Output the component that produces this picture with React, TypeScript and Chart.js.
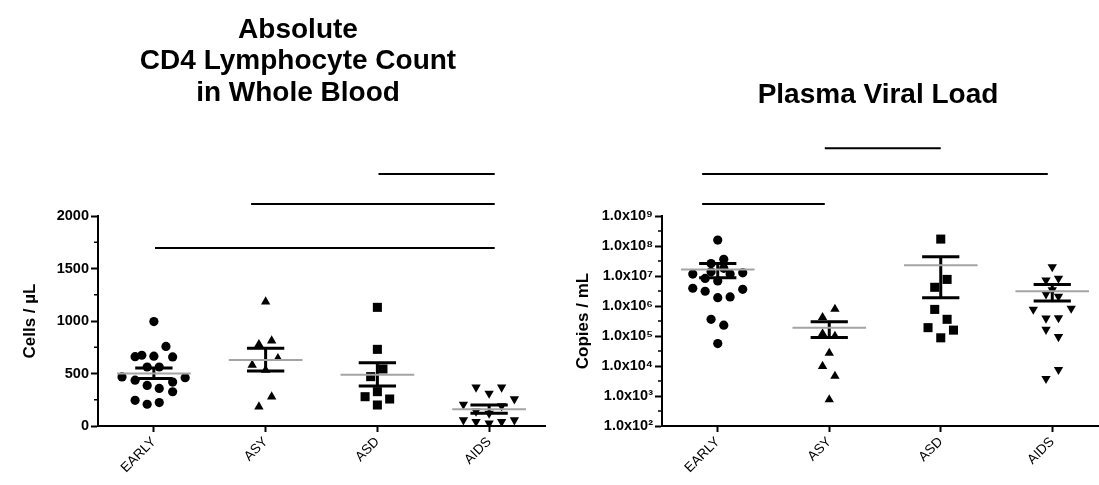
import React, { useEffect, useRef } from 'react';
import { Chart, registerables } from 'chart.js';

Chart.register(...registerables);

const FONT = "'Liberation Sans', Arial, Helvetica, sans-serif";

// ---------- shared ----------
const categories = ['EARLY', 'ASY', 'ASD', 'AIDS'];

// ---------- CD4 panel (cells / µL) ----------
const cd4Title = ['Absolute', 'CD4 Lymphocyte Count', 'in Whole Blood'];
const cd4Early = [995, 758, 660, 674, 665, 658, 562, 562, 467, 460, 436, 418, 386, 358, 326, 245, 223, 207];
const cd4EarlyJitter = [0, 0.108, -0.168, -0.108, 0, 0.168, -0.06, 0.048, -0.285, 0.28, -0.168, 0.168, -0.06, 0.048, 0.168, -0.168, 0.048, -0.06];
const cd4Asy = [1184, 812, 778, 645, 581, 533, 279, 184];
const cd4AsyJitter = [0, 0.054, -0.06, 0.11, -0.12, 0, 0.054, -0.06];
const cd4Asd = [1130, 730, 543, 470, 327, 279, 257, 200];
const cd4AsdJitter = [0, 0, 0.05, -0.06, 0, -0.11, 0.11, 0];
const cd4Aids = [369, 311, 369, 257, 206, 190, 140, 120, 57, 41, 26, 41, 57];
const cd4AidsJitter = [-0.117, 0, 0.112, 0.226, -0.23, 0.112, -0.117, 0, -0.23, -0.117, 0, 0.112, 0.226];
const cd4Mean = [500, 629, 489, 159];
const cd4SemHigh = [552, 740, 603, 200];
const cd4SemLow = [452, 524, 381, 121];
const cd4SigFrom = [0.01, 0.87, 2.01];
const cd4SigTo = [3.05, 3.05, 3.05];
const cd4SigLevel = [1695, 2114, 2400];
const cd4TickStep = 500;
const cd4Minor = [250, 750, 1250, 1750];

// ---------- Viral load panel (copies / mL) ----------
const vlTitle = ['Plasma Viral Load'];
const vlEarly = [1.58e8, 3.6e7, 2.6e7, 1.8e7, 1.38e7, 1.28e7, 1.16e7, 1.16e7, 8.3e6, 6.8e6, 3.9e6, 3.6e6, 3.1e6, 2.0e6, 1.9e6, 3.6e5, 2.3e5, 5.6e4];
const vlEarlyJitter = [0, 0.054, -0.06, 0.054, -0.06, 0.224, -0.224, 0.111, -0.113, 0, -0.224, 0.224, -0.113, 0.111, 0, -0.06, 0.054, 0];
const vlAsy = [7.9e5, 4.2e5, 1.2e5, 9.9e4, 2.7e4, 9.8e3, 4.6e3, 7.6e2];
const vlAsyJitter = [0.051, -0.06, -0.06, 0.051, 0, -0.06, 0.051, 0];
const vlAsd = [1.7e8, 7.7e6, 4.2e6, 7.7e5, 3.6e5, 1.9e5, 1.57e5, 8.7e4];
const vlAsdJitter = [0, 0.057, -0.054, -0.054, 0.057, -0.114, 0.114, 0];
const vlAids = [2.0e7, 8.3e6, 7.3e6, 3.4e6, 2.5e6, 2.1e6, 8.3e5, 7.7e5, 4.0e5, 3.9e5, 1.65e5, 9.4e4, 7.6e3, 3.8e3];
const vlAidsJitter = [0, 0.056, -0.056, 0, -0.056, 0.056, 0.17, -0.17, 0.056, -0.056, -0.056, 0.056, 0.056, -0.056];
const vlMean = [1.66e7, 1.87e5, 2.3e7, 3.1e6];
const vlSemHigh = [2.6e7, 3.0e5, 4.4e7, 5.2e6];
const vlSemLow = [8.7e6, 8.9e4, 1.9e6, 1.46e6];
const vlSigFrom = [-0.14, -0.14, 0.96];
const vlSigTo = [0.96, 2.96, 2.0];
const vlSigLevel = [2.5e9, 2.5e10, 1.8e11];
const vlTickValues = [1e2, 1e3, 1e4, 1e5, 1e6, 1e7, 1e8, 1e9];
const vlTickLabels = ['1.0x10²', '1.0x10³', '1.0x10⁴', '1.0x10⁵', '1.0x10⁶', '1.0x10⁷', '1.0x10⁸', '1.0x10⁹'];
const vlMinor = [3.16e2, 3.16e3, 3.16e4, 3.16e5, 3.16e6, 3.16e7, 3.16e8];

// ---------- helpers ----------
const MEAN_HALF = 0.33;
const CAP_HALF = 0.167;

function pointSet(values: number[], jitter: number[], cat: number, style: string, radius: number, rotation = 0) {
  return {
    data: values.map((v, i) => ({ x: cat + jitter[i], y: v })),
    showLine: false,
    pointStyle: style,
    pointRadius: radius,
    pointRotation: rotation,
    pointBackgroundColor: '#000',
    pointBorderColor: '#000',
    pointBorderWidth: 0,
    order: 3,
  };
}

function meanSet(means: number[]) {
  return {
    data: means.flatMap((m, i) => [
      { x: i - MEAN_HALF, y: m },
      { x: i + MEAN_HALF, y: m },
      { x: i, y: null },
    ]),
    showLine: true,
    spanGaps: false,
    pointRadius: 0,
    borderColor: '#a4a4a4',
    borderWidth: 2,
    order: 1,
  };
}

function semSet(hi: number[], lo: number[]) {
  return {
    data: hi.flatMap((h, i) => [
      { x: i - CAP_HALF, y: h },
      { x: i + CAP_HALF, y: h },
      { x: i, y: null },
      { x: i, y: h },
      { x: i, y: lo[i] },
      { x: i, y: null },
      { x: i - CAP_HALF, y: lo[i] },
      { x: i + CAP_HALF, y: lo[i] },
      { x: i, y: null },
    ]),
    showLine: true,
    spanGaps: false,
    pointRadius: 0,
    borderColor: '#000',
    borderWidth: 3,
    borderCapStyle: 'butt',
    order: 2,
  };
}

function sigSet(from: number[], to: number[], level: number[]) {
  return {
    data: from.flatMap((f, i) => [
      { x: f, y: level[i] },
      { x: to[i], y: level[i] },
      { x: to[i], y: null },
    ]),
    showLine: true,
    spanGaps: false,
    pointRadius: 0,
    borderColor: '#000',
    borderWidth: 2,
    clip: false,
    order: 0,
  };
}

const panelTitlePlugin = {
  id: 'panelTitle',
  afterDraw(chart: any, _args: any, opts: any) {
    const { ctx } = chart;
    ctx.save();
    ctx.font = `bold ${opts.size}px ${FONT}`;
    ctx.fillStyle = '#000';
    ctx.textAlign = 'center';
    ctx.textBaseline = 'middle';
    opts.lines.forEach((t: string, i: number) => ctx.fillText(t, opts.x, opts.y + i * opts.lineHeight));
    ctx.restore();
  },
};

const minorTicksPlugin = {
  id: 'minorTicks',
  afterDraw(chart: any, _args: any, opts: any) {
    const { ctx } = chart;
    const s = chart.scales.y;
    const x0 = chart.chartArea.left;
    ctx.save();
    ctx.strokeStyle = '#000';
    ctx.lineWidth = 1.5;
    ctx.beginPath();
    opts.values.forEach((v: number) => {
      const y = s.getPixelForValue(v);
      ctx.moveTo(x0, y);
      ctx.lineTo(x0 - opts.length, y);
    });
    ctx.stroke();
    ctx.restore();
  },
};

const TICK_FONT = { family: FONT, size: 14.5, weight: 'bold' };

function xScale() {
  return {
    type: 'linear',
    min: -0.5,
    max: 3.5,
    afterBuildTicks: (s: any) => {
      s.ticks = categories.map((_, i) => ({ value: i }));
    },
    afterFit: (s: any) => {
      s.height = 59;
    },
    ticks: {
      callback: (v: number) => categories[v] ?? '',
      minRotation: 45,
      maxRotation: 45,
      autoSkip: false,
      color: '#000',
      padding: 2,
      font: { family: FONT, size: 13.5 },
    },
    grid: { drawOnChartArea: false, drawTicks: true, tickLength: 6, tickColor: '#000', tickWidth: 2 },
    border: { display: true, color: '#000', width: 2 },
  };
}

function yCommon(title: string, width: number) {
  return {
    afterFit: (s: any) => {
      s.width = width;
    },
    grid: { drawOnChartArea: false, drawTicks: true, tickLength: 7, tickColor: '#000', tickWidth: 2 },
    border: { display: true, color: '#000', width: 2 },
    title: {
      display: true,
      text: title,
      color: '#000',
      padding: 0,
      font: { family: FONT, size: 17, weight: 'bold' },
    },
  };
}

function cd4Config() {
  return {
    type: 'scatter',
    data: {
      datasets: [
        sigSet(cd4SigFrom, cd4SigTo, cd4SigLevel),
        meanSet(cd4Mean),
        semSet(cd4SemHigh, cd4SemLow),
        pointSet(cd4Early, cd4EarlyJitter, 0, 'circle', 4.6),
        pointSet(cd4Asy, cd4AsyJitter, 1, 'triangle', 5.4),
        pointSet(cd4Asd, cd4AsdJitter, 2, 'rect', 6.4),
        pointSet(cd4Aids, cd4AidsJitter, 3, 'triangle', 5.4, 180),
      ],
    },
    options: {
      responsive: false,
      animation: false,
      events: [],
      layout: { padding: { left: 20, right: 15, top: 216, bottom: 0 } },
      scales: {
        x: xScale(),
        y: {
          type: 'linear',
          min: 0,
          max: 2000,
          ...yCommon('Cells / µL', 78),
          ticks: {
            stepSize: cd4TickStep,
            callback: (v: number) => String(v),
            color: '#000',
            padding: 2,
            font: TICK_FONT,
          },
        },
      },
      plugins: {
        legend: { display: false },
        tooltip: { enabled: false },
        panelTitle: { lines: cd4Title, x: 298, y: 30, lineHeight: 31.5, size: 28 },
        minorTicks: { values: cd4Minor, length: 4 },
      },
    },
    plugins: [panelTitlePlugin, minorTicksPlugin],
  };
}

function vlConfig() {
  return {
    type: 'scatter',
    data: {
      datasets: [
        sigSet(vlSigFrom, vlSigTo, vlSigLevel),
        meanSet(vlMean),
        semSet(vlSemHigh, vlSemLow),
        pointSet(vlEarly, vlEarlyJitter, 0, 'circle', 4.6),
        pointSet(vlAsy, vlAsyJitter, 1, 'triangle', 5.4),
        pointSet(vlAsd, vlAsdJitter, 2, 'rect', 6.4),
        pointSet(vlAids, vlAidsJitter, 3, 'triangle', 5.4, 180),
      ],
    },
    options: {
      responsive: false,
      animation: false,
      events: [],
      layout: { padding: { left: 13, right: 12, top: 216, bottom: 0 } },
      scales: {
        x: xScale(),
        y: {
          type: 'logarithmic',
          min: 1e2,
          max: 1e9,
          ...yCommon('Copies / mL', 89),
          afterBuildTicks: (s: any) => {
            s.ticks = vlTickValues.map((v) => ({ value: v }));
          },
          ticks: {
            callback: (v: number) => vlTickLabels[vlTickValues.indexOf(v)] ?? '',
            color: '#000',
            padding: 2,
            autoSkip: false,
            font: TICK_FONT,
          },
        },
      },
      plugins: {
        legend: { display: false },
        tooltip: { enabled: false },
        panelTitle: { lines: vlTitle, x: 318, y: 95, lineHeight: 31.5, size: 28 },
        minorTicks: { values: vlMinor, length: 4 },
      },
    },
    plugins: [panelTitlePlugin, minorTicksPlugin],
  };
}

function Panel({ left, width, makeConfig }: { left: number; width: number; makeConfig: () => any }) {
  const ref = useRef<HTMLCanvasElement | null>(null);
  useEffect(() => {
    if (!ref.current) return;
    const chart = new Chart(ref.current, makeConfig());
    return () => chart.destroy();
  }, [makeConfig]);
  return (
    <canvas
      ref={ref}
      width={width}
      height={485}
      style={{ position: 'absolute', left, top: 0, width, height: 485 }}
    />
  );
}

export default function App() {
  return (
    <div
      style={{
        position: 'fixed',
        left: 0,
        top: 0,
        width: 1099,
        height: 485,
        overflow: 'hidden',
        background: '#fff',
      }}
    >
      <Panel left={0} width={560} makeConfig={cd4Config} />
      <Panel left={560} width={560} makeConfig={vlConfig} />
    </div>
  );
}
